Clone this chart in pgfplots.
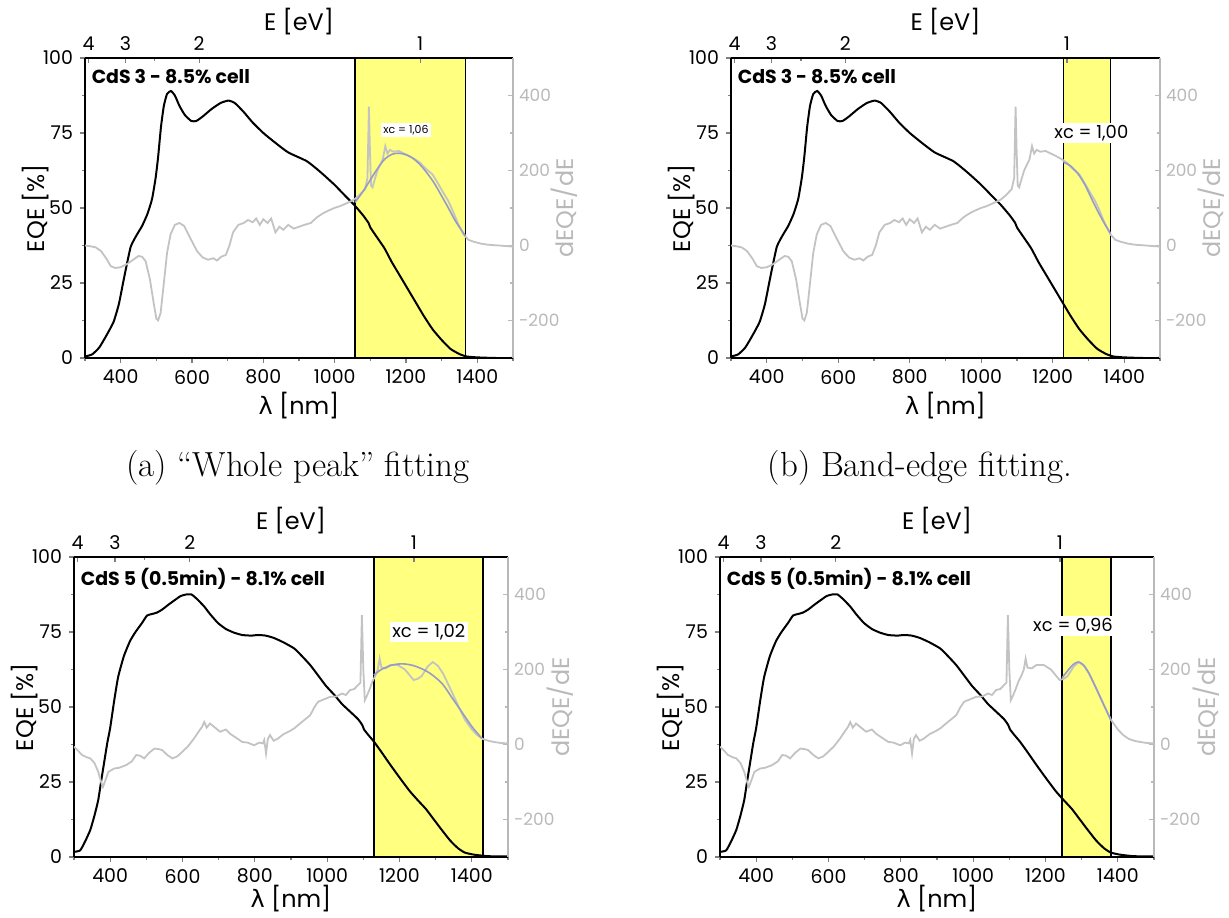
\documentclass[border=0pt]{standalone}
\usepackage{fontspec}
\usepackage{pgfplots}
\usepackage{pgfplotstable}
\pgfplotsset{compat=1.18}

\newfontfamily\chartfont{Poppins}
\newfontfamily\greekfont{DejaVu Sans}
\newcommand\tickfont{\chartfont\fontsize{9.5}{11}\selectfont}
\newcommand\righttickfont{\chartfont\fontsize{8.5}{10}\selectfont}
\newcommand\labelfont{\chartfont\fontsize{12}{14}\selectfont}
\newcommand\titlefont{\chartfont\bfseries\fontsize{9.5}{11}\selectfont}

\definecolor{bandyellow}{RGB}{255,255,128}
\definecolor{derivgray}{RGB}{195,195,195}
\definecolor{axisgray}{RGB}{185,185,185}
\definecolor{fitblue}{RGB}{150,155,200}

% ---------- CdS 3 (8.5% cell) ----------
\pgfplotstableread{
nm eqe
300 0.5
320 1.2
340 3.5
360 7.5
380 12
395 18
410 27
428 37
445 41
460 44
475 48
488 53
498 60
505 67
513 77
521 84
530 88
541 89
552 87.5
565 84
580 81
598 79
612 79
630 80.5
655 83
680 85
702 85.8
720 85
745 82
770 78.5
800 75
834 71.7
870 68.5
922 65.6
960 62
999 57.8
1030 54
1055 51
1080 47.5
1095 45
1100 43.5
1120 40
1140 36.5
1160 32
1180 28
1200 24
1225 19
1250 14
1275 9.5
1300 6
1325 3
1350 1.3
1370 0.5
1400 0.2
1450 0
1500 0
}\cdsThreeEQE

\pgfplotstableread{
nm d
300 0
315 -2
330 -5
345 -15
360 -35
372 -55
385 -60
400 -58
417 -50
435 -38
450 -28
460 -30
470 -42
482 -90
492 -150
500 -195
505 -200
512 -180
520 -110
530 -20
540 30
552 55
565 60
578 52
595 20
614 -15
630 -32
645 -38
660 -34
670 -40
682 -30
695 -25
705 0
715 35
730 55
745 60
757 68
770 62
780 72
790 55
800 70
812 60
822 72
834 35
845 50
856 42
870 55
885 45
900 50
915 55
933 60
950 75
966 85
980 92
999 100
1015 105
1032 112
1054 122
1070 135
1085 150
1092 180
1096 370
1099 250
1102 160
1106 155
1112 175
1120 200
1135 230
1142 265
1148 245
1155 255
1165 250
1180 252
1195 245
1210 238
1225 230
1240 220
1255 205
1274 190
1290 165
1305 140
1318 120
1330 95
1345 60
1361 30
1375 15
1390 10
1410 5
1430 2
1460 0
1500 -3
}\cdsThreeDeriv

% whole-peak Gaussian, xc = 1.06 eV
\pgfplotstableread{
nm d
1057 115
1080 145
1100 175
1120 205
1140 230
1160 243
1180 246
1200 242
1220 232
1240 215
1260 192
1280 165
1300 132
1320 98
1340 63
1367 25
}\cdsThreeFitA

% band-edge Gaussian, xc = 1.00 eV
\pgfplotstableread{
nm d
1230 222
1250 212
1270 192
1290 162
1310 122
1330 84
1350 50
1362 32
}\cdsThreeFitB

% ---------- CdS 5 (0.5 min, 8.1% cell) ----------
\pgfplotstableread{
nm eqe
300 1.7
317 2.2
330 5
345 9
357 14
367 19
376 26
384 32
392 38
400 43
411 52
422 60
438 67
455 72
470 75
488 78
502 80.5
516 81
530 81.5
544 82.5
560 84
577 85.5
595 87
610 87.5
625 87.5
640 86
660 83.5
676 81
698 78
720 76
742 74.8
765 74
790 73.8
809 74
830 73.8
853 73
880 71.5
909 69.5
930 67
953 64
975 60.5
997 57
1020 54
1041 51
1063 48.5
1085 46
1097 44
1102 42.5
1115 40.5
1129 38.5
1150 35
1173 31
1200 26.5
1228 22
1250 19
1273 16
1295 12.5
1317 9
1340 5.5
1361 3
1380 1.5
1405 0.8
1440 0.3
1472 0.2
1500 0.2
}\cdsFiveEQE

\pgfplotstableread{
nm d
300 -6
310 -15
322 -28
335 -34
345 -37
357 -50
367 -73
375 -100
380 -113
387 -95
395 -73
411 -64
425 -62
444 -55
460 -45
472 -28
483 -30
494 -37
508 -22
522 -11
533 -12
544 -15
558 -28
572 -37
585 -32
599 -20
615 -5
632 16
645 35
654 47
660 60
667 45
676 56
690 45
704 34
720 40
731 29
748 18
765 7
780 5
798 -2
812 5
822 3
826 12
831 -24
836 15
842 25
852 10
864 16
880 28
895 35
909 43
930 60
953 78
965 100
975 114
990 120
1008 127
1025 128
1041 136
1052 132
1063 145
1075 148
1085 158
1092 165
1096 345
1100 200
1104 118
1110 130
1118 149
1126 170
1134 185
1140 200
1145 229
1150 205
1162 203
1175 212
1195 212
1215 200
1239 172
1250 175
1261 182
1278 208
1292 220
1306 210
1320 190
1340 150
1360 108
1381 66
1400 40
1415 25
1430 15
1445 10
1460 7
1480 4
1500 3
}\cdsFiveDeriv

% whole-peak Gaussian, xc = 1.02 eV
\pgfplotstableread{
nm d
1129 185
1150 200
1180 212
1210 215
1240 210
1270 198
1294 183
1320 160
1345 125
1370 90
1400 48
1428 16
}\cdsFiveFitC

% band-edge Gaussian, xc = 0.96 eV
\pgfplotstableread{
nm d
1246 178
1260 195
1275 212
1290 220
1305 212
1320 190
1340 150
1360 108
1381 64
}\cdsFiveFitD

\pgfplotsset{
  panelbase/.style={
    scale only axis, height=150bp, xmin=300, xmax=1500,
    major tick length=2.5bp, minor tick length=1.6bp,
    every tick/.append style={line width=0.6bp},
    /pgf/number format/assume math mode=true,
    /pgf/number format/1000 sep={},
    tick label style={font=\tickfont},
  },
  eqeaxis/.style={
    panelbase, ymin=0, ymax=100,
    axis x line=bottom, axis y line=left,
    x axis line style={-, line width=0.75bp},
    y axis line style={-, line width=0.75bp},
    tick align=outside,
    xtick={400,600,...,1400}, minor xtick={300,500,...,1500},
    ytick={0,25,...,100}, minor ytick={12.5,37.5,62.5,87.5},
    xlabel={{\greekfont λ} [nm]}, ylabel={EQE [\%]},
    xlabel style={font=\labelfont, at={(axis description cs:0.5,-0.16)}, anchor=center},
    ylabel style={font=\labelfont, at={(axis description cs:-0.115,0.5)}, anchor=center},
  },
  derivaxis/.style={
    panelbase, ymin=-300, ymax=500,
    axis x line=top, axis y line=right,
    x axis line style={-, black, line width=0.75bp},
    y axis line style={-, axisgray, line width=0.75bp},
    tick align=inside,
    xtick={309.96,413.28,619.92,1239.84}, xticklabels={4,3,2,1},
    minor xtick={495.94},
    ytick={-200,0,200,400}, minor ytick={-100,100,300},
    every y tick/.append style={axisgray},
    every minor y tick/.append style={axisgray},
    yticklabel style={text=axisgray, font=\righttickfont, xshift=-0.5bp},
    xlabel={E [eV]}, ylabel={dEQE/dE},
    xlabel style={font=\labelfont, at={(axis description cs:0.5,1.12)}, anchor=center},
    ylabel style={font=\labelfont, text=axisgray, at={(axis description cs:1.12,0.5)}, anchor=center},
  },
  eqeline/.style={black, line width=1bp, smooth, tension=0.3, mark=none},
  derivline/.style={derivgray, line width=0.9bp, mark=none},
  fitline/.style={fitblue, line width=0.8bp, smooth, mark=none},
}

% EQE panel: options, EQE table, title, band start, band end
\newcommand{\eqepanel}[5]{%
  \begin{axis}[eqeaxis, #1]
    \draw[black, line width=0.75bp, fill=bandyellow] (axis cs:#4,0) rectangle (axis cs:#5,100);
    \addplot[eqeline] table[x=nm, y=eqe] {#2};
    \node[anchor=north west, inner sep=0pt, font=\titlefont] at (axis cs:318,96.5) {#3};
  \end{axis}}

% derivative panel: options, derivative table, fit table, label position, label text
\newcommand{\derivpanel}[5]{%
  \begin{axis}[derivaxis, #1]
    \addplot[derivline] table[x=nm, y=d] {#2};
    \addplot[fitline] table[x=nm, y=d] {#3};
    \node[fill=white, inner sep=1.2bp] at (axis cs:#4) {#5};
  \end{axis}}

\begin{document}
\begin{tikzpicture}
\useasboundingbox (0bp,0bp) rectangle (614.5bp,459bp);

% (a) whole peak fitting
\eqepanel{at={(42.5bp,280bp)}, width=214bp}{\cdsThreeEQE}{CdS 3 - 8.5\% cell}{1057}{1367}
\derivpanel{at={(42.5bp,280bp)}, width=214bp}{\cdsThreeDeriv}{\cdsThreeFitA}{1200,308}
  {\chartfont\fontsize{5.5}{6.5}\selectfont xc = 1,06}

% (b) band-edge fitting
\eqepanel{at={(365.5bp,280bp)}, width=214.5bp}{\cdsThreeEQE}{CdS 3 - 8.5\% cell}{1230}{1362}
\derivpanel{at={(365.5bp,280bp)}, width=214.5bp}{\cdsThreeDeriv}{\cdsThreeFitB}{1308,300}
  {\chartfont\fontsize{9}{10}\selectfont xc = 1,00}

% (c) whole peak fitting
\eqepanel{at={(37bp,30.5bp)}, width=217bp, xlabel style={at={(axis description cs:0.5,-0.14)}}}
  {\cdsFiveEQE}{CdS 5 (0.5min) - 8.1\% cell}{1129}{1431}
\derivpanel{at={(37bp,30.5bp)}, width=217bp}{\cdsFiveDeriv}{\cdsFiveFitC}{1281,300}
  {\chartfont\fontsize{9}{10}\selectfont xc = 1,02}

% (d) band-edge fitting
\eqepanel{at={(360bp,30.5bp)}, width=217bp, xlabel style={at={(axis description cs:0.5,-0.14)}}}
  {\cdsFiveEQE}{CdS 5 (0.5min) - 8.1\% cell}{1246}{1381}
\derivpanel{at={(360bp,30.5bp)}, width=217bp}{\cdsFiveDeriv}{\cdsFiveFitD}{1276,316}
  {\chartfont\fontsize{9}{10}\selectfont xc = 0,96}

% sub-captions
\node[font=\rmfamily\fontsize{17.5}{20}\selectfont] at (149bp,225bp) {(a) ``Whole peak'' fitting};
\node[font=\rmfamily\fontsize{17.5}{20}\selectfont] at (460bp,225bp) {(b) Band-edge fitting.};
\end{tikzpicture}
\end{document}
